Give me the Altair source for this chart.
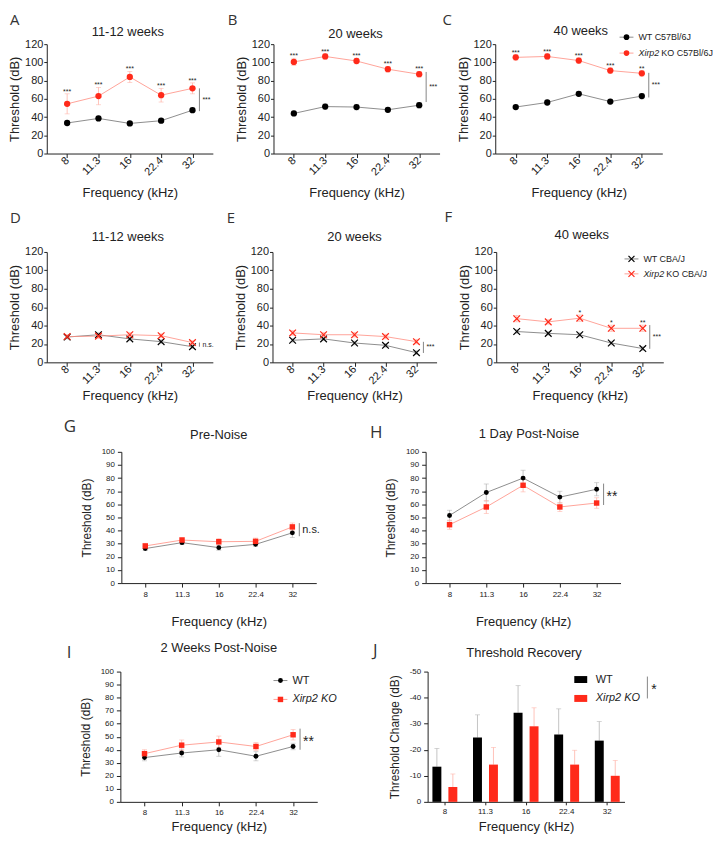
import altair as alt
import pandas as pd

# ---------------- data ----------------
freqs = ["8", "11.3", "16", "22.4", "32"]
groups = ["WT", "KO"]

# A: C57Bl/6J 11-12 weeks
a_wt = [33.5, 38.5, 33.0, 36.0, 47.5]
a_wt_err = [2.0, 2.5, 2.0, 2.0, 2.5]
a_ko = [54.5, 63.0, 84.0, 64.0, 71.5]
a_ko_err = [11.0, 9.5, 6.0, 7.5, 6.0]
a_stars = ["***", "***", "***", "***", "***"]
a_sig, a_span = "***", [71.5, 46.5]

# B: C57Bl/6J 20 weeks
b_wt = [44.0, 51.5, 51.0, 48.0, 53.0]
b_wt_err = [2.5, 3.0, 3.0, 2.5, 3.0]
b_ko = [100.5, 106.5, 101.5, 92.5, 87.0]
b_ko_err = [4.0, 3.0, 3.0, 3.0, 3.0]
b_stars = ["***", "***", "***", "***", "***"]
b_sig, b_span = "***", [89.5, 56.5]

# C: C57Bl/6J 40 weeks
c_wt = [51.0, 56.0, 65.5, 57.0, 63.0]
c_wt_err = [2.0, 2.5, 2.5, 2.5, 3.0]
c_ko = [105.5, 106.5, 102.0, 91.0, 88.0]
c_ko_err = [3.0, 3.0, 3.0, 3.0, 3.0]
c_stars = ["***", "***", "***", "***", "**"]
c_sig, c_span = "***", [88.5, 61.5]
c_leg_italic = ["", "Xirp2"]
c_leg_rest = ["WT C57Bl/6J", "KO C57Bl/6J"]

# D: CBA/J 11-12 weeks
d_wt = [27.5, 30.0, 25.5, 22.5, 17.0]
d_wt_err = [2.0, 2.0, 2.0, 2.0, 2.0]
d_ko = [28.0, 28.5, 30.0, 29.0, 21.5]
d_ko_err = [2.0, 2.5, 2.5, 2.0, 2.0]
d_stars = ["", "", "", "", ""]
d_sig, d_span = "n.s.", [21.5, 17.0]

# E: CBA/J 20 weeks
e_wt = [24.0, 25.5, 21.0, 18.5, 10.5]
e_wt_err = [2.0, 2.0, 2.0, 2.0, 2.0]
e_ko = [32.0, 30.0, 30.0, 28.0, 22.5]
e_ko_err = [2.5, 2.5, 2.5, 2.5, 2.5]
e_stars = ["", "", "", "", ""]
e_sig, e_span = "***", [22.3, 10.2]

# F: CBA/J 40 weeks
f_wt = [33.5, 31.5, 30.0, 21.0, 15.0]
f_wt_err = [2.0, 2.0, 2.0, 2.0, 2.0]
f_ko = [47.5, 44.0, 48.0, 37.0, 37.0]
f_ko_err = [3.5, 2.5, 3.5, 3.5, 3.5]
f_stars = ["", "", "*", "*", "**"]
f_sig, f_span = "***", [40.5, 14.7]
f_leg_italic = ["", "Xirp2"]
f_leg_rest = ["WT CBA/J", "KO CBA/J"]

# G: pre-noise
g_wt = [26.3, 30.8, 27.0, 29.5, 38.3]
g_wt_err = [1.5, 1.5, 2.0, 1.5, 3.5]
g_ko = [28.3, 32.8, 31.5, 31.8, 42.8]
g_ko_err = [2.0, 2.0, 2.5, 2.5, 3.0]
g_sig, g_span = "n.s.", [45.7, 35.7]

# H: 1 day post-noise
h_wt = [51.5, 69.0, 80.0, 65.5, 71.5]
h_wt_err = [4.0, 6.5, 6.0, 4.5, 5.0]
h_ko = [44.5, 58.0, 74.5, 58.0, 61.0]
h_ko_err = [3.5, 5.0, 5.0, 3.5, 4.0]
h_sig, h_span = "**", [75.8, 59.5]

# I: 2 weeks post-noise
i_wt = [34.0, 37.5, 40.0, 35.0, 42.5]
i_wt_err = [2.5, 3.0, 5.0, 3.5, 2.5]
i_ko = [37.0, 43.5, 46.0, 42.5, 51.5]
i_ko_err = [3.0, 4.0, 4.5, 3.0, 4.0]
i_sig, i_span = "**", [56.2, 40.0]
i_leg_italic = ["", "Xirp2 KO"]
i_leg_rest = ["WT", ""]

# J: threshold recovery
j_wt = [-13.5, -24.7, -34.2, -25.9, -23.5]
j_wt_err = [7.0, 8.7, 10.4, 9.8, 7.3]
j_ko = [-5.7, -14.3, -29.0, -14.3, -10.0]
j_ko_err = [5.0, 6.6, 7.1, 5.5, 5.9]
j_sig = "*"
j_leg_italic = ["", "Xirp2 KO"]
j_leg_rest = ["WT", ""]

# ---------------- style ----------------
FONT = "Liberation Sans"
LETTER_FONT = "Open Sans"
RED = "#ff2a1a"
KO_LINE = "#ff8c80"
WT_LINE = "#707070"
ERR_RED = "#ffb3a8"
ERR_GRAY = "#b4b4b4"
INK = "#222222"
XPATH = "M-1,-1L1,1M-1,1L1,-1"
ONE = pd.DataFrame({"k": [0]})


def make_df(vals, errs, stars=None):
    return pd.DataFrame({
        "freq": freqs,
        "value": vals,
        "lo": [v - e for v, e in zip(vals, errs)],
        "hi": [v + e for v, e in zip(vals, errs)],
        "star": stars if stars else [""] * len(vals),
    })


def lead(w, h, T, B):
    """invisible leading cell of a row: fixes the row's left edge and its vertical extent"""
    return alt.Chart(ONE).mark_rule(color="#ffffff", opacity=0).encode(
        x=alt.value(0), y=alt.value(-T), y2=alt.value(h + B)).properties(width=w, height=h)


def spacer(w, h):
    return alt.Chart(ONE).mark_point(opacity=0).encode(
        x=alt.value(0), y=alt.value(0)).properties(width=w, height=h)


def letter_layer(letter, x, y, fs):
    return alt.Chart(pd.DataFrame({"t": [letter]})).mark_text(
        align="left", baseline="top", font=LETTER_FONT, fontSize=fs,
        fontWeight="normal", color="#333333"
    ).encode(x=alt.value(x), y=alt.value(y), text="t:N")


def title_layer(title, x, y):
    return alt.Chart(pd.DataFrame({"t": [title]})).mark_text(
        align="center", baseline="middle", font=FONT, fontSize=13, color=INK
    ).encode(x=alt.value(x), y=alt.value(y), text="t:N")


def circle(size):
    return lambda b, c: b.mark_point(shape="circle", filled=True, size=size,
                                     color=c, opacity=1)


def square(size):
    return lambda b, c: b.mark_point(shape="square", filled=True, size=size,
                                     color=c, opacity=1)


def xmark(size):
    return lambda b, c: b.mark_point(shape=XPATH, filled=False, size=size,
                                     color=c, strokeWidth=1.2, opacity=1)


def legend_entry(x, y, marker, color, line_color, it, rest, fs, rest_dx,
                 text_dx=12, half=7):
    b = alt.Chart(pd.DataFrame({"it": [it], "rest": [rest]}))
    out = []
    if line_color:
        out.append(b.mark_rule(color=line_color, strokeWidth=0.8).encode(
            x=alt.value(x - half), x2=alt.value(x + half), y=alt.value(y)))
    out.append(marker(b, color).encode(x=alt.value(x), y=alt.value(y)))
    out.append(b.mark_text(align="left", baseline="middle", fontSize=fs,
                           fontStyle="italic", color=INK).encode(
        x=alt.value(x + text_dx), y=alt.value(y), text="it:N"))
    out.append(b.mark_text(align="left", baseline="middle", fontSize=fs,
                           dx=rest_dx, color=INK).encode(
        x=alt.value(x + text_dx), y=alt.value(y), text="rest:N"))
    return out


def line_panel(title, wt, wt_err, ko, ko_err, stars, sig, span, *, w, h,
               ymax, ystep, row12, wt_mark, ko_mark, letter, lx, ly, lfs,
               ty, tdx=0, extra=(), sig_fs=7, sig_dy=0, xtp=4):
    wt_df = make_df(wt, wt_err)
    ko_df = make_df(ko, ko_err, stars)
    yvals = list(range(0, ymax + 1, ystep))
    if row12:
        xa = alt.Axis(title="Frequency (kHz)", labelAngle=-45, labelAlign="right",
                      labelBaseline="middle", labelFontSize=11, titleFontSize=13,
                      tickSize=4, labelPadding=1, titlePadding=xtp)
        ya = alt.Axis(title="Threshold (dB)", values=yvals, labelFontSize=11,
                      titleFontSize=13, tickSize=3, labelPadding=1, titlePadding=3)
    else:
        xa = alt.Axis(title="Frequency (kHz)", labelAngle=0, labelFontSize=8,
                      titleFontSize=13, tickSize=4, labelPadding=3, titlePadding=xtp)
        ya = alt.Axis(title="Threshold (dB)", values=yvals, labelFontSize=8,
                      titleFontSize=12, tickSize=4, labelPadding=3, titlePadding=8)
    xs = alt.Scale(type="point", padding=0.65)
    ys = alt.Scale(domain=[0, ymax], nice=False)

    def X():
        return alt.X("freq:N", sort=freqs, scale=xs, axis=xa)

    def Y(f):
        return alt.Y(f + ":Q", scale=ys, axis=ya)

    layers = []
    for df, ec in ((wt_df, ERR_GRAY), (ko_df, ERR_RED)):
        b = alt.Chart(df)
        layers.append(b.mark_rule(color=ec, strokeWidth=0.8).encode(x=X(), y=Y("lo"), y2="hi"))
        layers.append(b.mark_tick(color=ec, thickness=0.8, size=5).encode(x=X(), y=Y("lo")))
        layers.append(b.mark_tick(color=ec, thickness=0.8, size=5).encode(x=X(), y=Y("hi")))
    layers.append(alt.Chart(wt_df).mark_line(color=WT_LINE, strokeWidth=0.8).encode(
        x=X(), y=Y("value")))
    layers.append(alt.Chart(ko_df).mark_line(color=KO_LINE, strokeWidth=0.8).encode(
        x=X(), y=Y("value")))
    layers.append(wt_mark(alt.Chart(wt_df), "#000000").encode(x=X(), y=Y("value")))
    layers.append(ko_mark(alt.Chart(ko_df), RED).encode(x=X(), y=Y("value")))
    layers.append(alt.Chart(ko_df).mark_text(fontSize=7, baseline="alphabetic", color=INK).encode(
        x=X(), y=Y("hi"), text="star:N"))
    bdf = pd.DataFrame({"freq": [freqs[-1]], "y1": [span[0]], "y2": [span[1]],
                        "mid": [(span[0] + span[1]) / 2], "t": [sig]})
    layers.append(alt.Chart(bdf).mark_rule(color="#666666", strokeWidth=0.8, xOffset=7).encode(
        x=X(), y=Y("y1"), y2="y2"))
    layers.append(alt.Chart(bdf).mark_text(align="left", baseline="middle", dx=10, dy=sig_dy,
                                           fontSize=sig_fs, color=INK).encode(
        x=X(), y=Y("mid"), text="t:N"))
    layers.append(letter_layer(letter, lx, ly, lfs))
    layers.append(title_layer(title, w / 2 + tdx, ty))
    layers += list(extra)
    return alt.layer(*layers).properties(width=w, height=h)


# ---------------- row 1 ----------------
A = line_panel("11-12 weeks", a_wt, a_wt_err, a_ko, a_ko_err, a_stars, a_sig, a_span,
               w=167, h=110, ymax=120, ystep=20, row12=True,
               wt_mark=circle(40), ko_mark=circle(40), letter="A", lx=-37, ly=-31, lfs=15,
               ty=-12, tdx=-2, xtp=10)
B = line_panel("20 weeks", b_wt, b_wt_err, b_ko, b_ko_err, b_stars, b_sig, b_span,
               w=167, h=110, ymax=120, ystep=20, row12=True,
               wt_mark=circle(40), ko_mark=circle(40), letter="B", lx=-46, ly=-31, lfs=15,
               ty=-10, tdx=-1, xtp=10)
c_leg = []
c_leg += legend_entry(132, -7, circle(32), "#000000", WT_LINE, c_leg_italic[0], c_leg_rest[0], 9, 0)
c_leg += legend_entry(132, 9, circle(32), RED, KO_LINE, c_leg_italic[1], c_leg_rest[1], 9, 23)
C = line_panel("40 weeks", c_wt, c_wt_err, c_ko, c_ko_err, c_stars, c_sig, c_span,
               w=168, h=110, ymax=120, ystep=20, row12=True,
               wt_mark=circle(40), ko_mark=circle(40), letter="C", lx=-53, ly=-31, lfs=15,
               ty=-13, tdx=2, extra=c_leg, xtp=10)
row1 = alt.hconcat(lead(38, 110, 34, 53), A, spacer(61, 110), B, spacer(56, 110), C,
                   spacing=0, bounds="flush")

# ---------------- row 2 ----------------
D = line_panel("11-12 weeks", d_wt, d_wt_err, d_ko, d_ko_err, d_stars, d_sig, d_span,
               w=167, h=111, ymax=120, ystep=20, row12=True,
               wt_mark=xmark(45), ko_mark=xmark(45), letter="D", lx=-37, ly=-41, lfs=15,
               ty=-15, tdx=-2)
E = line_panel("20 weeks", e_wt, e_wt_err, e_ko, e_ko_err, e_stars, e_sig, e_span,
               w=165, h=111, ymax=120, ystep=20, row12=True,
               wt_mark=xmark(45), ko_mark=xmark(45), letter="E", lx=-46, ly=-41, lfs=15,
               ty=-15)
f_leg = []
f_leg += legend_entry(136, 7, xmark(36), "#000000", WT_LINE, f_leg_italic[0], f_leg_rest[0], 9, 0)
f_leg += legend_entry(136, 22, xmark(36), RED, KO_LINE, f_leg_italic[1], f_leg_rest[1], 9, 23)
F = line_panel("40 weeks", f_wt, f_wt_err, f_ko, f_ko_err, f_stars, f_sig, f_span,
               w=168, h=111, ymax=120, ystep=20, row12=True,
               wt_mark=xmark(45), ko_mark=xmark(45), letter="F", lx=-52, ly=-42, lfs=15,
               ty=-17, tdx=2, extra=f_leg)
row2 = alt.hconcat(lead(38, 111, 46, 48), D, spacer(60, 111), E, spacer(60, 111), F,
                   spacing=0, bounds="flush")

# ---------------- row 3 ----------------
G = line_panel("Pre-Noise", g_wt, g_wt_err, g_ko, g_ko_err, None, g_sig, g_span,
               w=196, h=132, ymax=100, ystep=10, row12=False,
               wt_mark=circle(24), ko_mark=square(30), letter="G", lx=-58, ly=-33, lfs=17,
               ty=-17, sig_fs=11, xtp=18)
H = line_panel("1 Day Post-Noise", h_wt, h_wt_err, h_ko, h_ko_err, None, h_sig, h_span,
               w=196, h=132, ymax=100, ystep=10, row12=False,
               wt_mark=circle(24), ko_mark=square(30), letter="H", lx=-56, ly=-27, lfs=17,
               ty=-18, tdx=6, sig_fs=14, sig_dy=3, xtp=18)
row3 = alt.hconcat(lead(113, 132, 42, 51), G, spacer(110, 132), H, spacing=0, bounds="flush")

# ---------------- row 4 ----------------
i_leg = []
i_leg += legend_entry(161, 9, circle(24), "#000000", WT_LINE, i_leg_italic[0], i_leg_rest[0], 11, 0)
i_leg += legend_entry(161, 28, square(30), RED, KO_LINE, i_leg_italic[1], i_leg_rest[1], 11, 0)
I = line_panel("2 Weeks Post-Noise", i_wt, i_wt_err, i_ko, i_ko_err, None, i_sig, i_span,
               w=198, h=131, ymax=100, ystep=10, row12=False,
               wt_mark=circle(24), ko_mark=square(30), letter="I", lx=-54, ly=-27, lfs=17,
               ty=-24, sig_fs=14, sig_dy=3, xtp=4, extra=i_leg)

jdf = pd.DataFrame({
    "freq": freqs * 2,
    "group": ["WT"] * 5 + ["KO"] * 5,
    "value": j_wt + j_ko,
    "err": j_wt_err + j_ko_err,
})
jdf["top"] = jdf["value"] - jdf["err"]

jxs = alt.Scale(paddingInner=0.15, paddingOuter=0)
jxo = alt.XOffset("group:N", sort=groups,
                  scale=alt.Scale(domain=groups, paddingInner=0.44, paddingOuter=0.3))
jys = alt.Scale(domain=[-50, 0], reverse=True, nice=False)
jxa = alt.Axis(title="Frequency (kHz)", labelAngle=0, labelFontSize=8, titleFontSize=13,
               tickSize=3, labelPadding=3, titlePadding=5)
jya = alt.Axis(title="Threshold Change (dB)", values=[-50, -40, -30, -20, -10, 0],
               labelExpr="datum.value == 0 ? '0' : '-' + abs(datum.value)",
               labelFontSize=8, titleFontSize=12, tickSize=4, labelPadding=3, titlePadding=8)


def JX():
    return alt.X("freq:N", sort=freqs, scale=jxs, axis=jxa)


def JY(f):
    return alt.Y(f + ":Q", scale=jys, axis=jya)


j_layers = []
for g, ec in (("WT", ERR_GRAY), ("KO", ERR_RED)):
    b = alt.Chart(jdf).transform_filter(alt.datum.group == g)
    j_layers.append(b.mark_rule(color=ec, strokeWidth=0.8).encode(
        x=JX(), xOffset=jxo, y=JY("value"), y2="top"))
    j_layers.append(b.mark_tick(color=ec, thickness=0.8, size=5).encode(
        x=JX(), xOffset=jxo, y=JY("top")))
j_layers.append(alt.Chart(jdf).mark_bar().encode(
    x=JX(), xOffset=jxo, y=JY("value"),
    color=alt.Color("group:N", scale=alt.Scale(domain=groups, range=["#000000", RED]),
                    legend=None)))

for k, (yy, col) in enumerate(((8, "#000000"), (27, RED))):
    jb = alt.Chart(pd.DataFrame({"it": [j_leg_italic[k]], "rest": [j_leg_rest[k]]}))
    j_layers.append(jb.mark_rect(color=col).encode(
        x=alt.value(147.5), x2=alt.value(160.5), y=alt.value(yy - 3.5), y2=alt.value(yy + 3.5)))
    j_layers.append(jb.mark_text(align="left", baseline="middle", fontSize=11,
                                 fontStyle="italic", color=INK).encode(
        x=alt.value(169), y=alt.value(yy), text="it:N"))
    j_layers.append(jb.mark_text(align="left", baseline="middle", fontSize=11, color=INK).encode(
        x=alt.value(169), y=alt.value(yy), text="rest:N"))
jsig = alt.Chart(pd.DataFrame({"t": [j_sig]}))
j_layers.append(jsig.mark_rule(color="#666666", strokeWidth=0.8).encode(
    x=alt.value(221), y=alt.value(5), y2=alt.value(27)))
j_layers.append(jsig.mark_text(align="left", baseline="middle", fontSize=14, color=INK).encode(
    x=alt.value(225), y=alt.value(19), text="t:N"))
j_layers.append(letter_layer("J", -55, -29, 17))
j_layers.append(title_layer("Threshold Recovery", 99 - 2, -19))

J = alt.layer(*j_layers).properties(width=198, height=131)

row4 = alt.hconcat(lead(112, 131, 38, 34), I, spacer(111, 131), J, spacing=0, bounds="flush")

chart = alt.vconcat(row1, row2, row3, row4, spacing=0).properties(padding=0).configure_view(
    stroke=None
).configure_axis(
    grid=False, domainColor=INK, tickColor=INK, labelColor=INK, titleColor=INK,
    labelFont=FONT, titleFont=FONT, titleFontWeight="normal", domainWidth=1, tickWidth=1
).configure_text(font=FONT)

chart.save("out.html", embed_options={"renderer": "svg", "actions": False})
